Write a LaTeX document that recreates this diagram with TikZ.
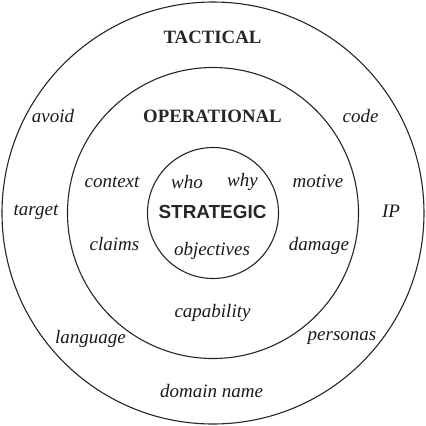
\documentclass[tikz,border=0pt]{standalone}
\usepackage{fontspec}
\newfontfamily\labelserif{Liberation Serif}
\newfontfamily\labelsans{Liberation Sans}
\begin{document}
\begin{tikzpicture}[x=1bp,y=-1bp,
  ring/.style={draw=black!85,line width=1.1bp},
  lbl/.style={anchor=base,inner sep=0pt,font=\labelserif\fontsize{19bp}{22bp}\selectfont\itshape,text=black!90},
  head/.style={anchor=base,inner sep=0pt,font=\labelserif\fontsize{18.8bp}{22bp}\selectfont\bfseries,text=black!85},
  core/.style={anchor=base,inner sep=0pt,font=\labelsans\fontsize{18.9bp}{22bp}\selectfont\bfseries,text=black!85}]
\useasboundingbox (0,0) rectangle (426,426);
\coordinate (c) at (213,213);
\draw[ring] (c) circle[radius=211];
\draw[ring] (c) circle[radius=145.5];
\draw[ring] (c) circle[radius=65.5];
% tactical ring
\node[head] (tac) at (212.5,43) {TACTICAL};
\node[lbl] (avoid) at (53,122) {avoid};
\node[lbl] (code) at (360.5,122) {code};
\node[lbl] (target) at (36,215) {target};
\node[lbl] (ip) at (391,217) {IP};
\node[lbl] (lang) at (90.5,343) {language};
\node[lbl] (pers) at (342,340) {personas};
\node[lbl] (dom) at (211.5,397) {domain name};
% operational ring
\node[head] (op) at (212.5,122) {OPERATIONAL};
\node[lbl] (ctx) at (112,187) {context};
\node[lbl] (mot) at (318,187) {motive};
\node[lbl] (clm) at (114.5,250) {claims};
\node[lbl] (dmg) at (319,250) {damage};
\node[lbl] (cap) at (212.5,317) {capability};
% strategic core
\node[core] (str) at (212.5,218) {STRATEGIC};
\node[lbl] (who) at (187,188) {who};
\node[lbl] (why) at (242.5,186) {why};
\node[lbl] (obj) at (212,255) {objectives};
\end{tikzpicture}
\end{document}
